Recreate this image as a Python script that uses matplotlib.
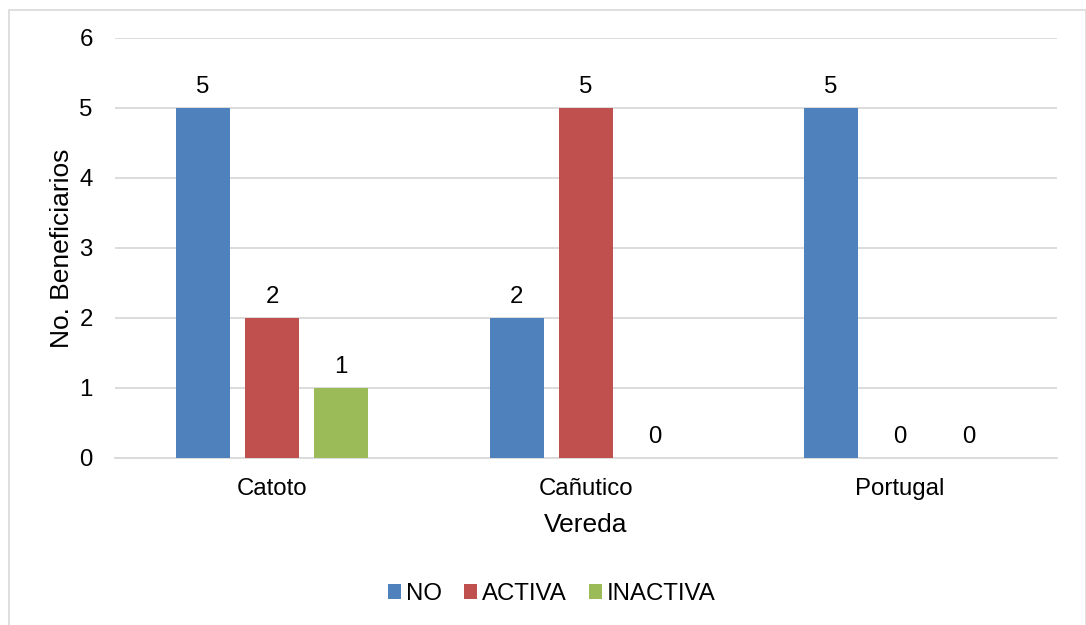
import matplotlib
matplotlib.use("Agg")
import matplotlib.pyplot as plt
from matplotlib.patches import Rectangle
import numpy as np

plt.rcParams['font.family'] = ['Liberation Sans', 'DejaVu Sans']

veredas = ["Catoto", "Cañutico", "Portugal"]
series_names = ["NO", "ACTIVA", "INACTIVA"]
no_vals = [5, 2, 5]
activa_vals = [2, 5, 0]
inactiva_vals = [1, 0, 0]
y_ticks = [0, 1, 2, 3, 4, 5, 6]

colors = ["#4F81BD", "#C0504D", "#9BBB59"]
grid_color = "#D9D9D9"
fs = 17.3        # tick labels, data labels, legend
fs_title = 19    # axis titles

W, H = 1086, 625
fig = plt.figure(figsize=(W / 100, H / 100), dpi=100)
fig.patch.set_facecolor("white")

# outer chart frame (open at the bottom edge)
fig.add_artist(Rectangle((8.5 / W, -0.05), (1085.5 - 8.5) / W, 1.05 - 9.5 / H,
                         transform=fig.transFigure, fill=False,
                         edgecolor=grid_color, linewidth=1.2))

ax = fig.add_axes([115 / W, 1 - 458 / H, (1057 - 115) / W, (458 - 38) / H])

x = np.arange(len(veredas))
bar_w = 0.172
step = 0.22
all_vals = [no_vals, activa_vals, inactiva_vals]
for i, (name, vals, c) in enumerate(zip(series_names, all_vals, colors)):
    pos = x + (i - 1) * step
    bars = ax.bar(pos, vals, width=bar_w, color=c, label=name, zorder=3)
    for b, v in zip(bars, vals):
        ax.annotate(str(v), (b.get_x() + b.get_width() / 2, v),
                    xytext=(0, 7.5), textcoords="offset points",
                    ha="center", va="bottom", fontsize=fs, color="#000000")

ax.set_xlim(-0.5, len(veredas) - 0.5)
ax.set_ylim(0, 6)
ax.set_yticks(y_ticks)
ax.set_xticks(x)
ax.set_xticklabels(veredas)
ax.yaxis.grid(True, color=grid_color, linewidth=1.3, zorder=0)
ax.set_axisbelow(True)
for s in ["top", "right", "left"]:
    ax.spines[s].set_visible(False)
ax.spines["bottom"].set_color(grid_color)
ax.spines["bottom"].set_linewidth(1.3)
ax.tick_params(axis="both", length=0, labelsize=fs, colors="#000000")
ax.tick_params(axis="y", pad=16)
ax.tick_params(axis="x", pad=14.5)

ax.set_xlabel("Vereda", fontsize=fs_title, labelpad=9.5)
ax.set_ylabel("No. Beneficiarios", fontsize=fs_title, labelpad=4)

leg = fig.legend(loc="center", bbox_to_anchor=(552 / W, 1 - 594 / H), ncol=3,
                 frameon=False, fontsize=fs, handlelength=0.54, handleheight=0.54,
                 handletextpad=0.22, columnspacing=0.9)

fig.savefig("out.png", dpi=100, facecolor="white")
